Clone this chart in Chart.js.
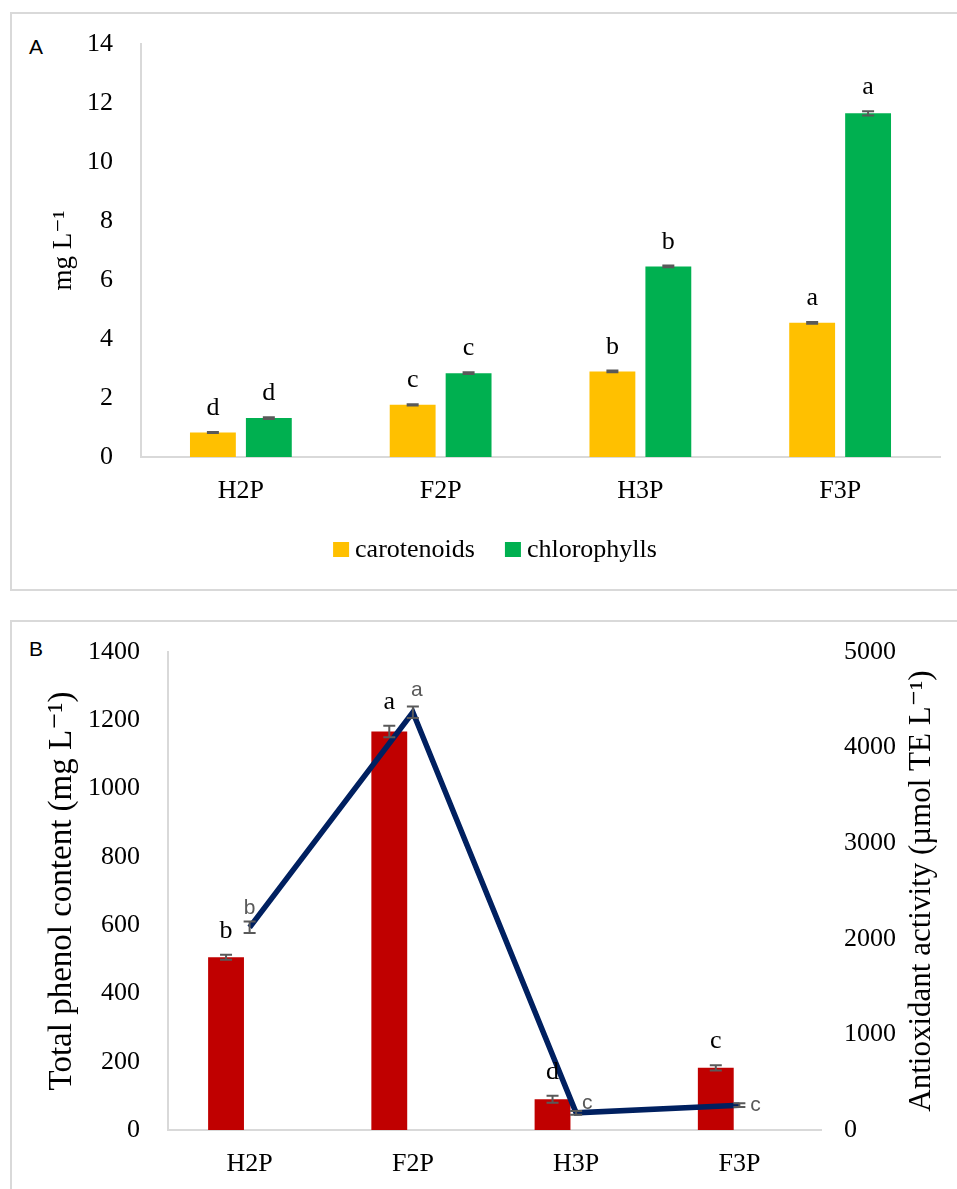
<!DOCTYPE html>
<html lang="en">
<head>
<meta charset="UTF-8">
<title>Pigments, total phenols and antioxidant activity</title>
<script src="https://cdn.jsdelivr.net/npm/chart.js"></script>
<style>
  body { margin: 0; background: #fff; width: 957px; height: 1189px; overflow: hidden; position: relative; }
  .panel { position: absolute; left: 10px; width: 970px; border: 2px solid #d9d9d9; box-sizing: border-box; }
  #panelA { top: 12px; height: 579px; }
  #panelB { top: 620px; height: 600px; }
  .tag { position: absolute; font-family: "Liberation Sans", Arial, sans-serif; font-size: 21px; color: #000; }
  canvas { position: absolute; left: 0; }
  #chartA { top: 0; }
  #chartB { top: 600px; }
</style>
</head>
<body>
<div class="panel" id="panelA"></div>
<div class="panel" id="panelB"></div>
<div class="tag" style="left:29px; top:35px;">A</div>
<div class="tag" style="left:29px; top:637px;">B</div>
<canvas id="chartA" width="957" height="600"></canvas>
<canvas id="chartB" width="957" height="589"></canvas>

<script>
// ---- data ----
const categories = ['H2P', 'F2P', 'H3P', 'F3P'];

// panel A (mg L-1)
const carotenoids = [0.83, 1.77, 2.90, 4.55];
const carotenoidsErr = [0.02, 0.02, 0.03, 0.03];
const carotenoidsLetters = ['d', 'c', 'b', 'a'];
const chlorophylls = [1.32, 2.84, 6.46, 11.65];
const chlorophyllsErr = [0.03, 0.03, 0.03, 0.07];
const chlorophyllsLetters = ['d', 'c', 'b', 'a'];

// panel B
const phenols = [506, 1167, 90, 182];          // mg L-1
const phenolsErr = [7, 17, 10, 8];
const phenolsLetters = ['b', 'a', 'd', 'c'];
const antioxidant = [2120, 4370, 180, 260];    // umol TE L-1
const antioxidantErr = [60, 60, 20, 20];
const antioxidantLetters = ['b', 'a', 'c', 'c'];

const serif = "'Liberation Serif', 'DejaVu Serif', serif";
const sans = "'Liberation Sans', Arial, sans-serif";

// error bars + significance letters
const errorBarPlugin = {
  id: 'errorBars',
  afterDatasetsDraw(chart) {
    const ctx = chart.ctx;
    chart.data.datasets.forEach((ds, di) => {
      if (!ds.errors) return;
      const meta = chart.getDatasetMeta(di);
      const scale = chart.scales[meta.yAxisID];
      meta.data.forEach((el, i) => {
        const v = ds.data[i];
        if (v == null) return;
        const x = el.x;
        const yHi = scale.getPixelForValue(v + ds.errors[i]);
        const yLo = scale.getPixelForValue(v - ds.errors[i]);
        ctx.save();
        ctx.strokeStyle = '#595959';
        ctx.lineWidth = 2;
        ctx.beginPath();
        ctx.moveTo(x, yHi); ctx.lineTo(x, yLo);
        ctx.moveTo(x - 6, yHi); ctx.lineTo(x + 6, yHi);
        ctx.moveTo(x - 6, yLo); ctx.lineTo(x + 6, yLo);
        ctx.stroke();
        if (ds.letters) {
          const off = ds.letterOffsets ? ds.letterOffsets[i] : [0, -17];
          ctx.font = ds.letterFont;
          ctx.fillStyle = ds.letterColor;
          ctx.textAlign = 'center';
          ctx.textBaseline = 'alphabetic';
          ctx.fillText(ds.letters[i], x + off[0], yHi + off[1]);
        }
        ctx.restore();
      });
    });
  }
};

// legend for panel A, drawn under the axis
const legendPlugin = {
  id: 'bottomLegend',
  afterDraw(chart, args, opts) {
    if (!opts.show) return;
    const ctx = chart.ctx;
    ctx.save();
    ctx.font = '26px ' + serif;
    const items = chart.data.datasets.map(ds => ({ label: ds.label, color: ds.backgroundColor, w: ctx.measureText(ds.label).width }));
    const total = items.reduce((s, it) => s + 16 + 6 + it.w, 0) + 30 * (items.length - 1);
    let x = opts.centerX - total / 2;
    const y = opts.y;
    items.forEach(it => {
      ctx.fillStyle = it.color;
      ctx.fillRect(x, y - 7, 16, 15);
      ctx.fillStyle = '#000';
      ctx.textBaseline = 'middle';
      ctx.fillText(it.label, x + 22, y + 1);
      x += 16 + 6 + it.w + 30;
    });
    ctx.restore();
  }
};

// right axis title reads bottom-to-top like the left one
const rightTitlePlugin = {
  id: 'rightTitle',
  afterDraw(chart, args, opts) {
    if (!opts.text) return;
    const ctx = chart.ctx;
    const area = chart.chartArea;
    ctx.save();
    ctx.translate(opts.x, (area.top + area.bottom) / 2);
    ctx.rotate(-Math.PI / 2);
    ctx.font = opts.font;
    ctx.fillStyle = '#000';
    ctx.textAlign = 'center';
    ctx.textBaseline = 'middle';
    ctx.fillText(opts.text, 0, 0);
    ctx.restore();
  }
};

const axisBorder = { display: true, color: '#d9d9d9', width: 2 };
const tickFont = { family: serif, size: 26 };

new Chart(document.getElementById('chartA'), {
  type: 'bar',
  data: {
    labels: categories,
    datasets: [
      {
        label: 'carotenoids', data: carotenoids, backgroundColor: '#FFC000',
        errors: carotenoidsErr, letters: carotenoidsLetters,
        letterFont: '26px ' + serif, letterColor: '#000'
      },
      {
        label: 'chlorophylls', data: chlorophylls, backgroundColor: '#00B050',
        errors: chlorophyllsErr, letters: chlorophyllsLetters,
        letterFont: '26px ' + serif, letterColor: '#000'
      }
    ]
  },
  options: {
    responsive: false,
    animation: false,
    categoryPercentage: 0.56,
    barPercentage: 0.82,
    layout: { padding: { top: 44, right: 17, bottom: 0, left: 0 } },
    plugins: {
      legend: { display: false },
      tooltip: { enabled: false },
      bottomLegend: { show: true, centerX: 495, y: 549 },
      rightTitle: {}
    },
    scales: {
      x: {
        grid: { display: false, drawTicks: false },
        border: axisBorder,
        ticks: { font: tickFont, color: '#000', padding: 19 },
        afterFit(s) { s.height = 143; }
      },
      y: {
        min: 0, max: 14,
        grid: { display: false, drawTicks: false },
        border: axisBorder,
        ticks: { stepSize: 2, font: tickFont, color: '#000', padding: 28 },
        title: { display: true, text: 'mg L⁻¹', color: '#000', font: { family: serif, size: 27 }, padding: { top: 48, bottom: 0 } },
        afterFit(s) { s.width = 141; }
      }
    }
  },
  plugins: [errorBarPlugin, legendPlugin, rightTitlePlugin]
});

new Chart(document.getElementById('chartB'), {
  data: {
    labels: categories,
    datasets: [
      {
        type: 'line', label: 'Antioxidant activity', data: antioxidant, yAxisID: 'y1',
        borderColor: '#002060', borderWidth: 5.5, pointRadius: 0, tension: 0, fill: false, order: 0,
        errors: antioxidantErr, letters: antioxidantLetters,
        letterFont: '21px ' + sans, letterColor: '#595959',
        letterOffsets: [[0, -8], [4, -10], [11, -2], [16, 8]]
      },
      {
        type: 'bar', label: 'Total phenol content', data: phenols, yAxisID: 'y',
        backgroundColor: '#C00000', order: 1,
        errors: phenolsErr, letters: phenolsLetters,
        letterFont: '26px ' + serif, letterColor: '#000'
      },
      {
        type: 'bar', label: '', data: [null, null, null, null], yAxisID: 'y',
        backgroundColor: 'rgba(0,0,0,0)', order: 1
      }
    ]
  },
  options: {
    responsive: false,
    animation: false,
    categoryPercentage: 0.578,
    barPercentage: 0.76,
    layout: { padding: { top: 52, right: 0, bottom: 0, left: 0 } },
    plugins: {
      legend: { display: false },
      tooltip: { enabled: false },
      bottomLegend: { show: false },
      rightTitle: { text: 'Antioxidant activity (µmol TE L⁻¹)', font: '31px ' + serif, x: 922 }
    },
    scales: {
      x: {
        grid: { display: false, drawTicks: false },
        border: axisBorder,
        ticks: { font: tickFont, color: '#000', padding: 19 },
        afterFit(s) { s.height = 59; }
      },
      y: {
        position: 'left',
        min: 0, max: 1400,
        grid: { display: false, drawTicks: false },
        border: axisBorder,
        ticks: { stepSize: 200, font: tickFont, color: '#000', padding: 28, format: { useGrouping: false } },
        title: { display: true, text: 'Total phenol content (mg L⁻¹)', color: '#000', font: { family: serif, size: 33 }, padding: { top: 43, bottom: 0 } },
        afterFit(s) { s.width = 168; }
      },
      y1: {
        position: 'right',
        min: 0, max: 5000,
        grid: { display: false, drawTicks: false },
        border: { display: false },
        ticks: { stepSize: 1000, font: tickFont, color: '#000', padding: 23, format: { useGrouping: false } },
        afterFit(s) { s.width = 136; }
      }
    }
  },
  plugins: [errorBarPlugin, rightTitlePlugin]
});
</script>
</body>
</html>
